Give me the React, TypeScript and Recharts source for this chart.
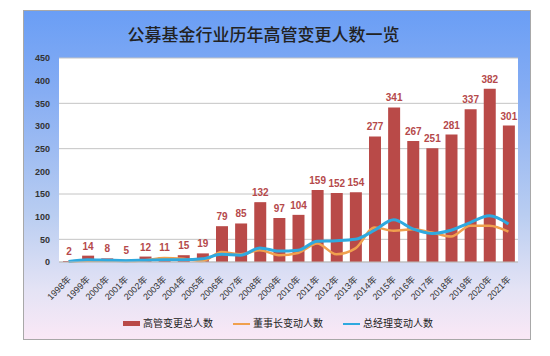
import React from 'react';
import { ComposedChart, Bar, Line, XAxis, YAxis, CartesianGrid, LabelList } from 'recharts';

const years = ['1998年','1999年','2000年','2001年','2002年','2003年','2004年','2005年','2006年','2007年','2008年','2009年','2010年','2011年','2012年','2013年','2014年','2015年','2016年','2017年','2018年','2019年','2020年','2021年'];
const totalChanges = [2,14,8,5,12,11,15,19,79,85,132,97,104,159,152,154,277,341,267,251,281,337,382,301];
const chairmanChanges = [1,3,3,2,4,9,7,2,22,17,26,15,20,41,17,30,76,69,72,65,56,80,80,67];
const gmChanges = [1,5,4,3,4,5,5,7,17,15,31,24,26,46,47,50,70,93,73,63,70,87,102,84];
const yTicks = [0,50,100,150,200,250,300,350,400,450];
const seriesNames = ['高管变更总人数','董事长变动人数','总经理变动人数'];
const titleText = '公募基金行业历年高管变更人数一览';

const BAR = '#b94a48';
const ORANGE = '#f0a04e';
const BLUE = '#2fa9df';

const data = years.map((y, i) => ({
  year: y,
  total: totalChanges[i],
  chairman: chairmanChanges[i],
  gm: gmChanges[i],
}));

const XTick = (props: any) => {
  const { x, y, payload } = props;
  return (
    <g transform={`translate(${x + 3},${y + 18})`}>
      <text x={0} y={0} textAnchor="end" transform="rotate(-45)" fontSize={9} fill="#333" fontFamily="'Liberation Sans','Noto Sans CJK SC',sans-serif">
        {payload.value}
      </text>
    </g>
  );
};

export default function App() {
  return (
    <div style={{ position: 'absolute', left: 0, top: 0, width: 550, height: 356, background: '#fff', overflow: 'hidden' }}>
      <div style={{
        position: 'absolute', left: 23, top: 10, width: 506, height: 328,
        border: '1px solid #a8a8a8',
        background: 'linear-gradient(to bottom, #6a9ef5 0%, #86adf3 25%, #b9cdf1 62%, #e4e3f5 85%, #fae8f6 100%)',
      }} />
      <div style={{
        position: 'absolute', left: 0, width: 527, top: 22, textAlign: 'center',
        fontFamily: "'Noto Sans CJK SC', sans-serif", fontSize: 17, fontWeight: 500, color: '#222', lineHeight: '24px',
      }}>{titleText}</div>
      <div style={{ position: 'absolute', left: 0, top: 0 }}>
        <ComposedChart width={550} height={356} data={data} margin={{ top: 58, right: 32, bottom: 0, left: 0 }} barSize={12}>
          <CartesianGrid vertical={false} stroke="#c4c4c4" fill="#ffffff" />
          <XAxis dataKey="year" height={94} tickLine={false} tickSize={0} tickMargin={0} interval={0} stroke="#bdbdbd" tick={<XTick />} />
          <YAxis width={59} domain={[0, 450]} ticks={yTicks} axisLine={false} tickLine={false} tickSize={0} tickMargin={9}
            tick={{ fontSize: 9, fill: '#333', fontWeight: 600, fontFamily: "'Liberation Sans', sans-serif" }} />
          <Bar dataKey="total" name={seriesNames[0]} fill={BAR} isAnimationActive={false}>
            <LabelList dataKey="total" position="top" offset={6} fill="#b5494b" fontSize={10} fontWeight={600} fontFamily="'Liberation Sans', sans-serif" />
          </Bar>
          <Line type="monotone" dataKey="chairman" name={seriesNames[1]} stroke={ORANGE} strokeWidth={2.5} dot={false} isAnimationActive={false} />
          <Line type="monotone" dataKey="gm" name={seriesNames[2]} stroke={BLUE} strokeWidth={3} dot={false} isAnimationActive={false} />
        </ComposedChart>
      </div>
      <div style={{ position: 'absolute', left: 0, top: 316, width: 550, fontFamily: "'Noto Sans CJK SC', sans-serif", fontSize: 10, color: '#222' }}>
        <div style={{ position: 'absolute', left: 123, top: 5, width: 17, height: 5, background: BAR }} />
        <div style={{ position: 'absolute', left: 143, top: 0, lineHeight: '14px' }}>{seriesNames[0]}</div>
        <div style={{ position: 'absolute', left: 233, top: 7, width: 17, height: 2, background: ORANGE }} />
        <div style={{ position: 'absolute', left: 253, top: 0, lineHeight: '14px' }}>{seriesNames[1]}</div>
        <div style={{ position: 'absolute', left: 343, top: 7, width: 17, height: 2, background: BLUE }} />
        <div style={{ position: 'absolute', left: 363, top: 0, lineHeight: '14px' }}>{seriesNames[2]}</div>
      </div>
    </div>
  );
}
